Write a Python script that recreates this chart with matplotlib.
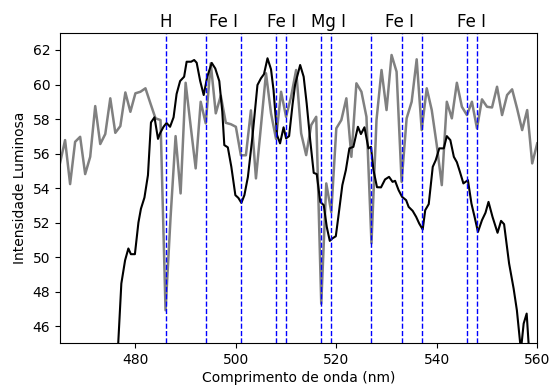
import numpy as np
import matplotlib
matplotlib.use('Agg')
import matplotlib.pyplot as plt
import matplotlib.transforms as mtransforms

# gray spectrum (1 nm steps)
wl_ref = np.arange(465, 561)
int_ref = [55.46, 56.78, 54.23, 56.68, 56.97, 54.81, 55.81, 58.75, 56.55, 57.13,
           59.2, 57.2, 57.59, 59.54, 58.42, 59.49, 59.58, 59.78, 58.9, 58.04,
           57.94, 46.92, 52.3, 57.01, 53.69, 60.1, 57.6, 55.14, 59.0, 57.75,
           61.23, 58.33, 59.35, 57.78, 57.7, 57.55, 55.9, 55.9, 58.5, 54.56,
           57.6, 60.65, 58.33, 56.85, 59.58, 58.13, 59.3, 60.84, 57.17, 55.91,
           57.65, 58.13, 47.3, 54.27, 52.6, 57.46, 57.94, 59.2, 55.81, 60.07,
           59.58, 58.13, 50.8, 57.94, 60.84, 58.52, 61.71, 60.74, 54.36, 58.04,
           59.0, 61.46, 57.36, 59.78, 58.52, 56.49, 54.17, 59.0, 58.04, 60.1,
           58.71, 58.23, 59.0, 57.46, 59.14, 58.71, 58.67, 59.87, 58.23, 59.39,
           59.72, 58.6, 57.36, 58.52, 55.43, 56.59]

# black spectrum
wl_obs = [476.4, 477.2, 477.95, 478.6, 479.1, 479.9, 480.6, 481.1, 481.8, 482.5,
          483.1, 483.8, 484.5, 484.9, 485.6, 486.2, 486.9, 487.6, 488.2, 488.9,
          489.7, 490.2, 491.1, 491.7, 492.2, 492.9, 493.6, 494.3, 495.2, 495.9,
          496.7, 497.3, 497.7, 498.4, 499.1, 499.9, 500.5, 501.1, 501.7, 502.4,
          503.3, 504.3, 505.0, 505.6, 506.3, 507.0, 507.5, 508.2, 508.8, 509.5,
          510.0, 510.6, 511.3, 511.8, 512.8, 513.5, 514.1, 514.8, 515.5, 516.1,
          516.8, 517.5, 518.1, 518.7, 519.2, 519.9, 520.4, 521.2, 521.9, 522.6,
          523.4, 524.3, 524.9, 525.6, 526.4, 526.9, 527.4, 528.1, 528.9, 529.7,
          530.5, 531.2, 531.7, 532.4, 533.1, 533.9, 534.4, 535.2, 535.9, 536.5,
          537.2, 537.7, 538.4, 539.2, 539.8, 540.5, 541.4, 542.0, 542.7, 543.4,
          544.0, 544.6, 545.3, 546.2, 546.9, 547.6, 548.2, 549.0, 549.7, 550.3,
          551.1, 552.1, 552.8, 553.4, 554.4, 555.3, 555.95, 556.75, 557.3, 557.9,
          558.5]
int_obs = [44.0, 48.47, 49.82, 50.5, 50.17, 50.17, 52.0, 52.8, 53.45, 54.75,
           57.8, 58.1, 56.85, 57.17, 57.55, 57.77, 57.55, 58.1, 59.45, 60.2,
           60.45, 61.32, 61.32, 61.42, 61.26, 60.2, 59.39, 60.45, 61.25, 60.93,
           60.2, 58.42, 56.49, 56.36, 55.23, 53.59, 53.43, 53.14, 53.59, 54.65,
           56.97, 59.97, 60.36, 60.6, 61.52, 60.88, 59.68, 57.07, 56.59, 57.52,
           56.88, 57.01, 58.87, 60.0, 61.13, 60.45, 58.9, 56.78, 54.88, 54.81,
           53.2, 53.01, 51.75, 50.94, 51.08, 51.21, 52.33, 54.17, 55.04, 56.3,
           56.39, 57.55, 57.13, 57.52, 56.3, 56.39, 55.04, 54.05, 54.04, 54.5,
           54.65, 54.36, 54.42, 53.88, 53.49, 53.3, 52.91, 52.68, 52.33, 51.95,
           51.6, 52.72, 53.07, 55.23, 55.62, 56.3, 56.3, 57.01, 56.78, 55.81,
           55.5, 54.95, 54.27, 54.46, 53.11, 52.24, 51.46, 52.14, 52.57, 53.2,
           52.33, 51.41, 52.1, 51.91, 49.63, 48.18, 46.92, 44.6, 46.15, 46.73,
           44.0]

# absorption lines
lines = [486.1, 494, 501, 508, 510, 517, 519, 527, 533, 537, 546, 548]
label_pos = [486.1, 497.5, 509, 518.5, 532.5, 547]
label_txt = ['H', 'Fe I', 'Fe I', 'Mg I', 'Fe I', 'Fe I']

fig = plt.figure(figsize=(5.51, 3.85), dpi=100)
ax = fig.add_subplot(111)
fig.subplots_adjust(left=0.109, right=0.975, bottom=0.108, top=0.915)

ax.plot(wl_ref, int_ref, color='gray', linewidth=1.8)
ax.plot(wl_obs, int_obs, color='k', linewidth=1.5)
for l in lines:
    ax.axvline(l, color='b', linestyle='--', linewidth=1)

trans = mtransforms.blended_transform_factory(ax.transData, ax.transAxes)
for xp, t in zip(label_pos, label_txt):
    ax.text(xp, 1.018, t, transform=trans, ha='center', va='baseline', fontsize=12)

ax.set_xlim(465, 560)
ax.set_ylim(45, 63)
ax.set_xticks([480, 500, 520, 540, 560])
ax.set_yticks([46, 48, 50, 52, 54, 56, 58, 60, 62])
ax.set_xlabel('Comprimento de onda (nm)', labelpad=2.5)
ax.set_ylabel('Intensidade Luminosa')

plt.savefig('out.png', dpi=100)
plt.close()
